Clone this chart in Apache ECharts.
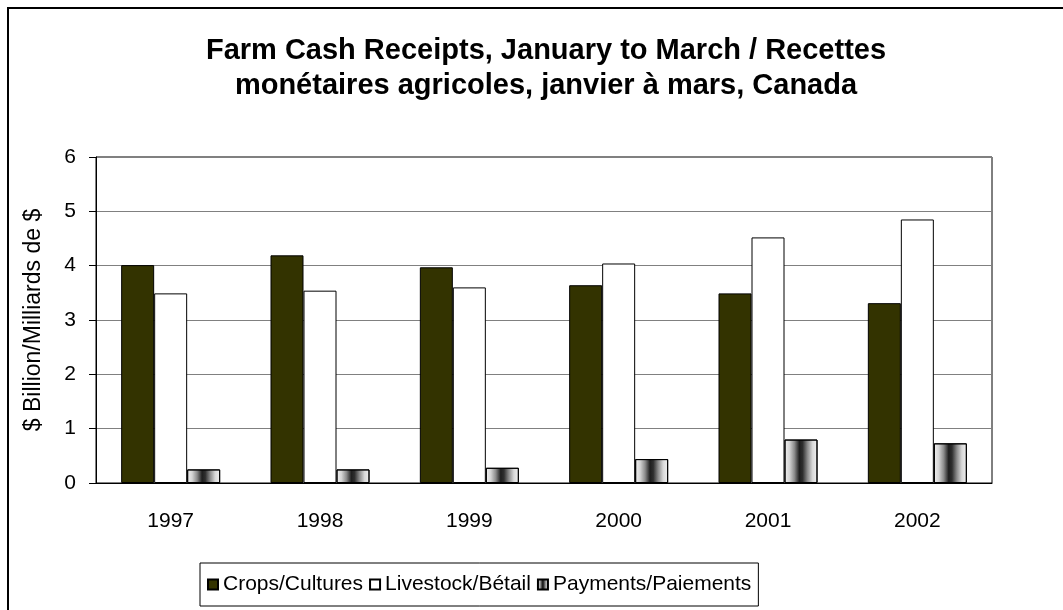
<!DOCTYPE html>
<html>
<head>
<meta charset="utf-8">
<script src="https://cdn.jsdelivr.net/npm/echarts@6/dist/echarts.min.js"></script>
<style>
  html, body { margin: 0; padding: 0; background: #fff; }
  #main { width: 1063px; height: 610px; }
</style>
</head>
<body>
<div id="main"></div>
<script>
var years = ['1997', '1998', '1999', '2000', '2001', '2002'];
var crops = [4.01, 4.19, 3.97, 3.64, 3.49, 3.31];
var livestock = [3.49, 3.54, 3.60, 4.04, 4.52, 4.85];
var payments = [0.25, 0.25, 0.28, 0.44, 0.80, 0.73];
var yTicks = [0, 1, 2, 3, 4, 5, 6];

(function(){
  var chart = echarts.init(document.getElementById('main'));
  var font = 'Liberation Sans, Arial, sans-serif';

  // cylinder-like shading of the payments bars
  var shade = new echarts.graphic.LinearGradient(0, 0, 1, 0, [
    {offset: 0, color: '#f2f2f2'},
    {offset: 0.15, color: '#d4d4d4'},
    {offset: 0.3, color: '#8c8c8c'},
    {offset: 0.45, color: '#1e1e1e'},
    {offset: 0.55, color: '#2e2e2e'},
    {offset: 0.7, color: '#8c8c8c'},
    {offset: 0.85, color: '#d8d8d8'},
    {offset: 1, color: '#f2f2f2'}
  ]);

  var option = {
    backgroundColor: '#fff',
    textStyle: {fontFamily: font, color: '#000'},
    graphic: [{
      type: 'rect',
      shape: {x: 8, y: 8, width: 1100, height: 700},
      style: {fill: 'none', stroke: '#000', lineWidth: 2},
      silent: true
    }],
    title: {
      text: 'Farm Cash Receipts, January to March / Recettes\nmonétaires agricoles, janvier à mars, Canada',
      left: 541,
      textAlign: 'center',
      top: 28,
      textStyle: {fontFamily: font, fontSize: 29, fontWeight: 'bold', color: '#000', lineHeight: 35}
    },
    legend: {
      data: ['Crops/Cultures', 'Livestock/Bétail', 'Payments/Paiements'],
      left: 200,
      top: 563,
      orient: 'horizontal',
      borderColor: '#000',
      borderWidth: 1,
      padding: [11, 7, 11, 7],
      itemWidth: 10,
      itemHeight: 10,
      itemGap: 6,
      icon: 'rect',
      textStyle: {fontFamily: font, fontSize: 21, color: '#000'}
    },
    grid: {left: 96, right: 71, top: 157, bottom: 127, show: true, borderColor: '#000', borderWidth: 1},
    xAxis: {
      type: 'category',
      data: years,
      axisLine: {lineStyle: {color: '#000', width: 1}},
      axisTick: {length: 8, lineStyle: {color: '#000'}},
      axisLabel: {fontFamily: font, fontSize: 21, color: '#000', margin: 28}
    },
    yAxis: {
      type: 'value',
      min: yTicks[0],
      max: yTicks[yTicks.length - 1],
      interval: 1,
      name: '$ Billion/Milliards de $',
      nameLocation: 'middle',
      nameRotate: 90,
      nameGap: 51,
      nameTextStyle: {fontFamily: font, fontSize: 23, color: '#000'},
      axisLine: {show: true, lineStyle: {color: '#000'}},
      axisTick: {show: true, length: 7, lineStyle: {color: '#000'}},
      axisLabel: {fontFamily: font, fontSize: 21, color: '#000', margin: 20},
      splitLine: {lineStyle: {color: '#808080', width: 1}}
    },
    series: [
      {
        name: 'Crops/Cultures',
        type: 'bar',
        data: crops,
        barWidth: 33,
        barGap: '0%',
        itemStyle: {color: '#333300', borderColor: '#000', borderWidth: 1}
      },
      {
        name: 'Livestock/Bétail',
        type: 'bar',
        data: livestock,
        barWidth: 33,
        barGap: '0%',
        itemStyle: {color: '#ffffff', borderColor: '#000', borderWidth: 1}
      },
      {
        name: 'Payments/Paiements',
        type: 'bar',
        data: payments,
        barWidth: 33,
        barGap: '0%',
        itemStyle: {color: shade, borderColor: '#000', borderWidth: 1}
      }
    ]
  };

  chart.setOption(option);
})()
</script>
</body>
</html>
